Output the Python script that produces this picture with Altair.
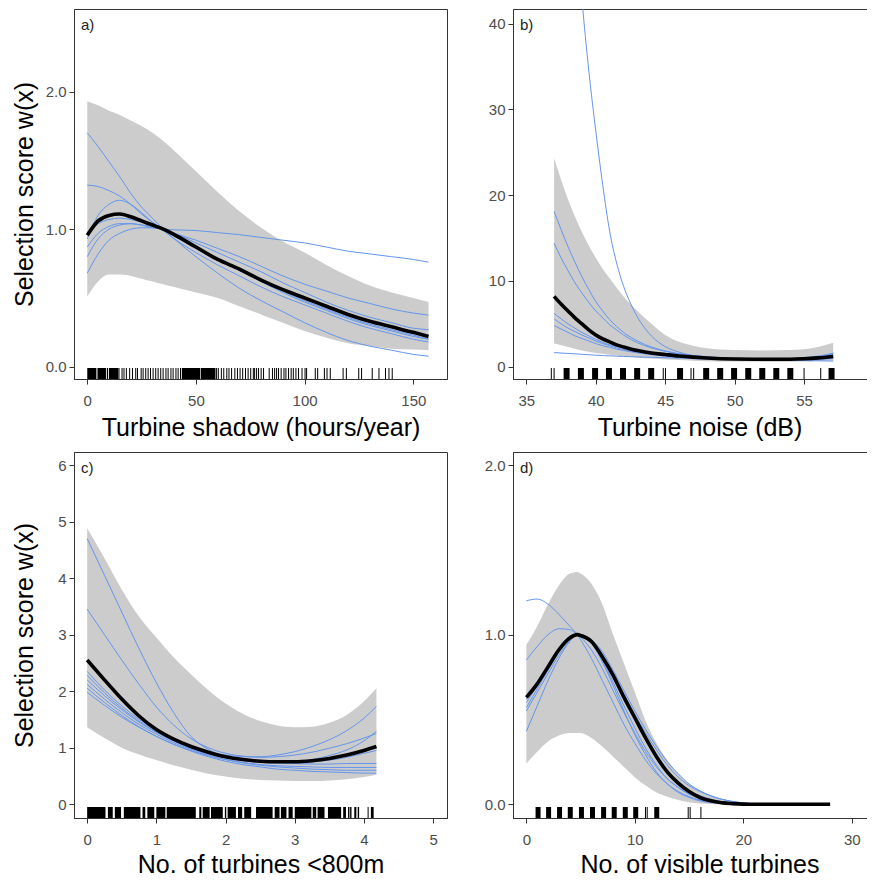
import altair as alt
import pandas as pd

FONT = "Liberation Sans, Arial, Helvetica, sans-serif"
GREY = "#CCCCCC"
BLUE = "#6495ED"

# ---------------- panel a: turbine shadow ----------------
a_x = [0, 5, 10, 15, 20, 25, 30, 35, 40, 50, 60, 70, 80, 90, 100, 110, 120, 130, 140, 150, 157]
a_fit = [0.955, 1.06, 1.10, 1.11, 1.09, 1.06, 1.03, 1.00, 0.96, 0.87, 0.78, 0.71, 0.63, 0.56, 0.50, 0.44, 0.38, 0.33, 0.29, 0.25, 0.22]
a_hi = [1.93, 1.90, 1.86, 1.83, 1.79, 1.75, 1.70, 1.64, 1.57, 1.42, 1.27, 1.13, 1.01, 0.91, 0.83, 0.74, 0.66, 0.59, 0.54, 0.50, 0.47]
a_lo = [0.51, 0.62, 0.67, 0.67, 0.66, 0.64, 0.62, 0.60, 0.58, 0.54, 0.50, 0.44, 0.38, 0.32, 0.26, 0.21, 0.17, 0.15, 0.13, 0.125, 0.12]
a_boot = [
    [1.70, 1.60, 1.49, 1.38, 1.26, 1.16, 1.08, 1.00, 0.93, 0.80, 0.68, 0.57, 0.48, 0.40, 0.32, 0.25, 0.19, 0.15, 0.12, 0.09, 0.077],
    [1.32, 1.31, 1.28, 1.24, 1.18, 1.11, 1.05, 1.00, 0.95, 0.86, 0.78, 0.70, 0.62, 0.55, 0.48, 0.42, 0.36, 0.31, 0.27, 0.23, 0.20],
    [0.93, 1.10, 1.18, 1.21, 1.18, 1.12, 1.05, 0.99, 0.93, 0.83, 0.74, 0.66, 0.58, 0.51, 0.45, 0.39, 0.33, 0.28, 0.24, 0.20, 0.18],
    [0.87, 0.97, 1.02, 1.04, 1.04, 1.03, 1.01, 1.00, 0.97, 0.92, 0.86, 0.80, 0.73, 0.66, 0.60, 0.55, 0.50, 0.46, 0.42, 0.39, 0.375],
    [0.80, 0.93, 1.00, 1.03, 1.04, 1.03, 1.02, 1.00, 0.97, 0.90, 0.83, 0.76, 0.69, 0.61, 0.54, 0.47, 0.41, 0.36, 0.32, 0.28, 0.27],
    [0.68, 0.82, 0.92, 0.97, 1.00, 1.01, 1.01, 1.00, 0.995, 0.99, 0.975, 0.96, 0.94, 0.92, 0.90, 0.87, 0.84, 0.82, 0.80, 0.78, 0.76],
    [0.97, 1.04, 1.07, 1.08, 1.07, 1.05, 1.02, 1.00, 0.96, 0.87, 0.78, 0.70, 0.62, 0.54, 0.47, 0.41, 0.35, 0.30, 0.26, 0.22, 0.20],
]
a_rug = [14.6, 16.0, 16.9, 18.0, 19.5, 20.8, 22.3, 23.1, 24.8, 25.7, 26.9, 28.0, 29.1, 30.3, 31.5, 32.6,
         33.8, 34.9, 36.2, 37.2, 38.5, 39.5, 40.8, 41.8, 42.9, 59.5, 60.3, 61.7, 62.8, 64.2, 65.2, 66.4,
         67.9, 69.1, 70.3, 71.5, 72.8, 74.0, 75.2, 76.4, 77.0, 77.9, 78.8, 80.0, 81.1, 83.7, 85.2, 86.2,
         87.1, 88.0, 89.2, 90.5, 91.4, 92.6, 93.8, 94.8, 96.0, 97.2, 98.8, 100.2, 100.9, 104.9, 106.0,
         109.1, 110.3, 111.8, 117.7, 119.2, 124.9, 126.2, 131.1, 134.2, 137.2, 138.8, 140.3]
a_rug_spans = [(0, 4.2), (4.7, 8.6), (9.0, 9.6), (10.0, 14.3), (43.5, 52.0), (52.3, 59.0)]
a_rug_thick = []

# ---------------- panel b: turbine noise ----------------
b_x = [37, 37.5, 38, 38.5, 39, 39.5, 40, 40.5, 41, 41.5, 42, 42.5, 43, 44, 45, 46, 47, 48, 50, 52, 54, 55, 56, 57.1]
b_fit = [8.2, 7.3, 6.5, 5.7, 5.0, 4.3, 3.7, 3.25, 2.9, 2.55, 2.3, 2.08, 1.9, 1.6, 1.42, 1.25, 1.12, 1.02, 0.9, 0.87, 0.88, 0.93, 1.03, 1.2]
b_hi = [24.3, 21.8, 19.5, 17.5, 15.7, 14.1, 12.7, 11.4, 10.3, 9.2, 8.2, 7.3, 6.5, 5.0, 3.7, 2.9, 2.45, 2.15, 1.95, 1.9, 1.95, 2.05, 2.3, 2.8]
b_lo = [2.7, 2.5, 2.3, 2.1, 1.9, 1.75, 1.6, 1.5, 1.4, 1.3, 1.2, 1.12, 1.05, 0.95, 0.85, 0.78, 0.7, 0.65, 0.6, 0.58, 0.58, 0.6, 0.63, 0.7]
b_boot = [
    [110, 87, 68, 54, 43, 34.5, 27.5, 21.2, 15.8, 12.1, 9.4, 7.4, 5.8, 3.6, 2.35, 1.7, 1.3, 1.1, 0.95, 0.9, 0.95, 1.05, 1.25, 1.5],
    [18.1, 16.0, 14.0, 12.2, 10.5, 9.0, 7.6, 6.5, 5.5, 4.7, 4.0, 3.45, 3.0, 2.3, 1.85, 1.5, 1.3, 1.15, 1.0, 0.92, 0.92, 1.0, 1.15, 1.6],
    [14.4, 12.7, 11.2, 9.8, 8.6, 7.5, 6.5, 5.7, 4.9, 4.3, 3.7, 3.2, 2.8, 2.2, 1.8, 1.5, 1.3, 1.15, 0.95, 0.88, 0.9, 0.98, 1.1, 1.4],
    [6.2, 5.6, 5.0, 4.5, 4.0, 3.6, 3.2, 2.85, 2.55, 2.35, 2.2, 2.02, 1.85, 1.6, 1.4, 1.25, 1.13, 1.05, 0.95, 0.9, 0.92, 1.0, 1.1, 1.5],
    [5.6, 5.0, 4.5, 4.1, 3.7, 3.35, 3.0, 2.7, 2.45, 2.2, 2.0, 1.85, 1.72, 1.5, 1.33, 1.2, 1.08, 1.0, 0.9, 0.85, 0.85, 0.9, 0.95, 1.1],
    [4.8, 4.4, 4.0, 3.6, 3.3, 3.0, 2.7, 2.45, 2.25, 2.05, 1.9, 1.75, 1.62, 1.4, 1.25, 1.1, 1.0, 0.95, 0.85, 0.8, 0.8, 0.82, 0.85, 0.95],
    [1.65, 1.6, 1.55, 1.5, 1.45, 1.4, 1.35, 1.3, 1.27, 1.23, 1.2, 1.17, 1.15, 1.1, 1.05, 1.0, 0.95, 0.9, 0.85, 0.8, 0.75, 0.72, 0.7, 0.65],
]
b_rug = [36.8, 37.0, 44.86, 45.02, 46.86, 47.05, 55.0, 56.2]
b_rug_spans = []
b_rug_thick = [37.9, 38.93, 39.95, 40.95, 41.96, 42.98, 43.99, 46.07, 47.95, 48.96, 49.96, 50.98, 51.99, 53.0, 54.01, 56.98]

# ---------------- panel c: turbines < 800 m ----------------
c_x = [0, 0.25, 0.5, 0.75, 1, 1.25, 1.5, 1.75, 2, 2.25, 2.5, 2.75, 3, 3.25, 3.5, 3.75, 4, 4.18]
c_fit = [2.55, 2.2, 1.86, 1.56, 1.32, 1.15, 1.02, 0.92, 0.84, 0.79, 0.76, 0.75, 0.75, 0.77, 0.81, 0.87, 0.95, 1.02]
c_hi = [4.88, 4.35, 3.8, 3.32, 2.95, 2.6, 2.3, 2.02, 1.78, 1.6, 1.47, 1.39, 1.36, 1.37, 1.44, 1.58, 1.82, 2.05]
c_lo = [1.36, 1.17, 1.0, 0.88, 0.78, 0.69, 0.61, 0.54, 0.49, 0.45, 0.43, 0.42, 0.41, 0.41, 0.42, 0.44, 0.48, 0.52]
c_boot = [
    [4.7, 4.05, 3.4, 2.75, 2.15, 1.62, 1.2, 0.97, 0.85, 0.79, 0.75, 0.73, 0.72, 0.71, 0.71, 0.72, 0.72, 0.72],
    [3.45, 3.0, 2.55, 2.12, 1.72, 1.4, 1.16, 1.0, 0.9, 0.85, 0.83, 0.84, 0.87, 0.92, 0.99, 1.07, 1.17, 1.25],
    [2.35, 2.02, 1.74, 1.5, 1.3, 1.14, 1.02, 0.93, 0.87, 0.84, 0.84, 0.87, 0.93, 1.02, 1.14, 1.3, 1.52, 1.73],
    [2.2, 1.92, 1.67, 1.45, 1.27, 1.12, 1.0, 0.9, 0.83, 0.78, 0.75, 0.74, 0.75, 0.79, 0.86, 0.96, 1.12, 1.29],
    [2.12, 1.86, 1.62, 1.41, 1.24, 1.09, 0.97, 0.87, 0.79, 0.73, 0.69, 0.66, 0.64, 0.62, 0.61, 0.6, 0.6, 0.6],
    [2.05, 1.8, 1.57, 1.37, 1.2, 1.06, 0.94, 0.84, 0.76, 0.7, 0.66, 0.62, 0.6, 0.58, 0.57, 0.56, 0.55, 0.55],
    [2.28, 1.97, 1.7, 1.47, 1.28, 1.12, 0.99, 0.89, 0.82, 0.77, 0.74, 0.73, 0.73, 0.75, 0.78, 0.83, 0.9, 0.95],
    [1.98, 1.75, 1.54, 1.36, 1.2, 1.06, 0.95, 0.86, 0.79, 0.74, 0.7, 0.68, 0.67, 0.66, 0.65, 0.65, 0.65, 0.65],
]
c_rug = [4.06]
c_rug_spans = [(0, 0.265), (0.30, 0.37), (0.40, 0.49), (0.53, 0.77), (0.80, 0.84), (0.87, 0.97),
               (1.0, 1.13), (1.15, 1.57), (1.62, 1.65), (1.67, 1.77), (1.79, 1.96), (1.99, 2.01),
               (2.03, 2.15), (2.18, 2.24), (2.27, 2.37), (2.44, 2.68), (2.71, 2.78), (2.80, 2.88),
               (2.91, 2.97), (3.0, 3.24), (3.26, 3.31), (3.33, 3.43), (3.48, 3.67), (3.70, 3.74),
               (3.77, 3.79), (3.80, 3.82), (3.86, 3.89), (3.91, 3.93), (4.10, 4.14)]
c_rug_thick = []

# ---------------- panel d: visible turbines ----------------
d_x = [0, 1, 2, 3, 4, 4.7, 5, 6, 7, 8, 9, 10, 11, 12, 13, 14, 15, 16, 17, 18, 19, 20, 21, 22, 28]
d_fit = [0.63, 0.71, 0.81, 0.91, 0.98, 1.0, 0.995, 0.96, 0.87, 0.76, 0.63, 0.51, 0.39, 0.28, 0.19, 0.125, 0.075, 0.04, 0.02, 0.009, 0.004, 0.001, 0.0, 0.0, 0.0]
d_hi = [0.94, 1.05, 1.18, 1.29, 1.36, 1.37, 1.36, 1.30, 1.18, 1.0, 0.83, 0.66, 0.49, 0.36, 0.26, 0.18, 0.12, 0.08, 0.05, 0.03, 0.018, 0.01, 0.005, 0.002, 0.0]
d_lo = [0.24, 0.31, 0.37, 0.405, 0.42, 0.42, 0.42, 0.39, 0.34, 0.28, 0.22, 0.16, 0.11, 0.07, 0.045, 0.025, 0.012, 0.005, 0.002, 0.0, 0.0, 0.0, 0.0, 0.0, 0.0]
d_boot = [
    [1.2, 1.21, 1.18, 1.12, 1.05, 1.0, 0.97, 0.86, 0.73, 0.6, 0.47, 0.36, 0.26, 0.18, 0.12, 0.075, 0.045, 0.025, 0.013, 0.006, 0.003, 0.001, 0.0],
    [0.85, 0.93, 1.0, 1.035, 1.03, 1.0, 0.985, 0.91, 0.8, 0.67, 0.54, 0.42, 0.31, 0.22, 0.15, 0.1, 0.06, 0.035, 0.02, 0.01, 0.005, 0.002, 0.0],
    [0.6, 0.7, 0.81, 0.91, 0.98, 1.0, 0.995, 0.96, 0.88, 0.77, 0.65, 0.53, 0.42, 0.32, 0.23, 0.16, 0.11, 0.075, 0.05, 0.03, 0.017, 0.008, 0.003],
    [0.57, 0.68, 0.79, 0.9, 0.98, 1.0, 1.0, 0.97, 0.9, 0.79, 0.67, 0.55, 0.44, 0.34, 0.25, 0.18, 0.12, 0.08, 0.05, 0.03, 0.016, 0.008, 0.003],
    [0.55, 0.66, 0.77, 0.88, 0.96, 1.0, 0.995, 0.95, 0.85, 0.72, 0.58, 0.45, 0.33, 0.23, 0.15, 0.1, 0.06, 0.035, 0.02, 0.01, 0.005, 0.002, 0.0],
    [0.43, 0.58, 0.73, 0.86, 0.96, 1.0, 1.0, 0.95, 0.84, 0.7, 0.55, 0.41, 0.29, 0.19, 0.12, 0.07, 0.04, 0.02, 0.01, 0.004, 0.002, 0.0, 0.0],
    [0.62, 0.72, 0.82, 0.92, 0.99, 1.0, 1.0, 0.96, 0.87, 0.75, 0.62, 0.5, 0.38, 0.28, 0.19, 0.13, 0.08, 0.05, 0.03, 0.015, 0.008, 0.003, 0.0],
]
d_rug = [10.98, 11.14, 14.92, 15.1, 16.09]
d_rug_spans = []
d_rug_thick = [1.08, 2.05, 3.06, 4.05, 5.08, 6.1, 7.12, 8.1, 9.12, 10.08, 12.02]

W = 373
H_TOP, H_BOTTOM = 370, 366
RUG_LEN = 11


def panel(xs, fit, lo, hi, boots, rug, spans, thick, thick_w, xdom, ydom,
          xticks, yticks, yfmt, xtitle, ytitle, label, H, xtitle_pad):
    ribbon = pd.DataFrame({"x": xs, "lo": lo, "hi": hi})
    fitdf = pd.DataFrame({"x": xs, "y": fit})
    rows = []
    for i, b in enumerate(boots):
        for xv, yv in zip(xs, b):
            rows.append({"x": xv, "y": yv, "run": i})
    bootdf = pd.DataFrame(rows)

    xscale = alt.Scale(domain=xdom, nice=False, zero=False)
    yscale = alt.Scale(domain=ydom, nice=False, zero=False)
    xaxis = alt.Axis(values=xticks, title=xtitle, format="d", titlePadding=xtitle_pad)
    if ytitle:
        yaxis = alt.Axis(values=yticks, format=yfmt, title=ytitle)
    else:
        yaxis = alt.Axis(values=yticks, format=yfmt, title=None)
    X = alt.X("x:Q", scale=xscale, axis=xaxis)

    layers = []
    layers.append(
        alt.Chart(ribbon).mark_area(color=GREY, opacity=1, clip=True, interpolate="monotone").encode(
            x=X, y=alt.Y("lo:Q", scale=yscale, axis=yaxis), y2="hi:Q")
    )
    layers.append(
        alt.Chart(bootdf).mark_line(color=BLUE, strokeWidth=1, clip=True, interpolate="monotone").encode(
            x=X, y=alt.Y("y:Q", scale=yscale, axis=yaxis), detail="run:N")
    )
    layers.append(
        alt.Chart(fitdf).mark_line(color="black", strokeWidth=3.6, clip=True, interpolate="monotone").encode(
            x=X, y=alt.Y("y:Q", scale=yscale, axis=yaxis))
    )
    if rug:
        layers.append(
            alt.Chart(pd.DataFrame({"x": rug})).mark_rule(color="black", strokeWidth=1).encode(
                x=X, y=alt.value(H - RUG_LEN), y2=alt.value(H))
        )
    if spans:
        layers.append(
            alt.Chart(pd.DataFrame({"x": [s[0] for s in spans], "x2": [s[1] for s in spans]})).mark_rect(
                color="black").encode(x=X, x2="x2:Q", y=alt.value(H - RUG_LEN), y2=alt.value(H))
        )
    if thick:
        layers.append(
            alt.Chart(pd.DataFrame({"x": thick})).mark_rule(color="black", strokeWidth=thick_w).encode(
                x=X, y=alt.value(H - RUG_LEN), y2=alt.value(H))
        )
    layers.append(
        alt.Chart(pd.DataFrame({"t": [label]})).mark_text(
            align="left", baseline="alphabetic", fontSize=15, font=FONT, color="#222222").encode(
            x=alt.value(7), y=alt.value(21), text="t:N")
    )
    return alt.layer(*layers).properties(width=W, height=H)


pa = panel(a_x, a_fit, a_lo, a_hi, a_boot, a_rug, a_rug_spans, a_rug_thick, 1,
           [-6.1, 165.5], [-0.089, 2.60], [0, 50, 100, 150], [0, 1, 2], ".1f",
           "Turbine shadow (hours/year)", "Selection score w(x)", "a)", H_TOP, 7)
pb = panel(b_x, b_fit, b_lo, b_hi, b_boot, b_rug, b_rug_spans, b_rug_thick, 6,
           [34.04, 60.9], [-1.43, 41.7], [35, 40, 45, 50, 55], [0, 10, 20, 30, 40], "d",
           "Turbine noise (dB)", None, "b)", H_TOP, 7)
pc = panel(c_x, c_fit, c_lo, c_hi, c_boot, c_rug, c_rug_spans, c_rug_thick, 1,
           [-0.19, 5.2], [-0.244, 6.23], [0, 1, 2, 3, 4, 5], [0, 1, 2, 3, 4, 5, 6], "d",
           "No. of turbines <800m", "Selection score w(x)", "c)", H_BOTTOM, 5)
pd_ = panel(d_x, d_fit, d_lo, d_hi, d_boot, d_rug, d_rug_spans, d_rug_thick, 5,
            [-1.23, 33.15], [-0.081, 2.077], [0, 10, 20, 30], [0, 1, 2], ".1f",
            "No. of visible turbines", None, "d)", H_BOTTOM, 5)

chart = alt.vconcat(
    alt.hconcat(pa, pb, spacing=34),
    alt.hconcat(pc, pd_, spacing=34),
    spacing=10,
).properties(
    padding={"left": 3, "top": 0, "right": -20, "bottom": 0}
).configure_view(
    stroke="#333333", strokeWidth=1
).configure_axis(
    grid=False, domainColor="#333333", tickColor="#333333", labelColor="#4D4D4D",
    labelFont=FONT, labelFontSize=15, titleFont=FONT, titleFontSize=25,
    titleFontWeight="normal", titleColor="#000000", tickSize=5
).configure_axisY(
    minExtent=30, maxExtent=30, titlePadding=7, labelPadding=3
).configure_axisX(
    minExtent=29, maxExtent=29, labelPadding=9
)

chart.save("out.html", embed_options={"renderer": "svg", "actions": False})
